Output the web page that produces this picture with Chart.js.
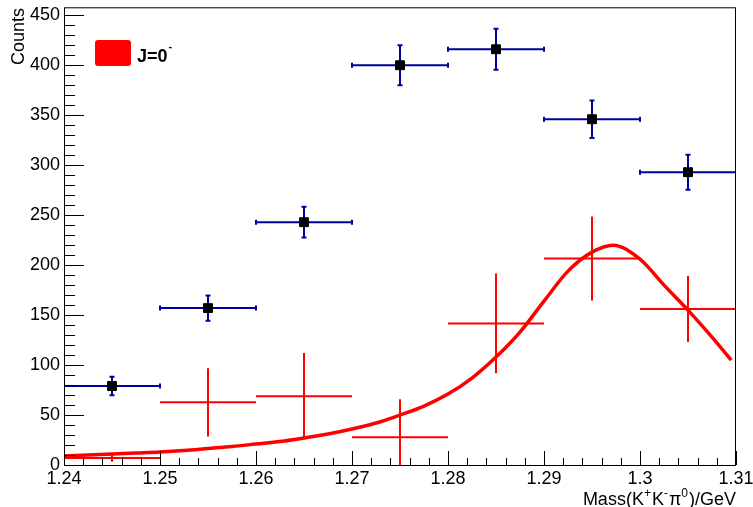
<!DOCTYPE html>
<html>
<head>
<meta charset="utf-8">
<script src="https://cdn.jsdelivr.net/npm/chart.js@4/dist/chart.umd.min.js"></script>
<style>
  html, body { margin: 0; padding: 0; background: #fff; }
  #wrap { width: 753px; height: 507px; }
</style>
</head>
<body>
<div id="wrap"><canvas id="c" width="753" height="507"></canvas></div>
<script>
// Bin centres of the K+K-pi0 mass histogram (GeV)
const massBins = [1.245, 1.255, 1.265, 1.275, 1.285, 1.295, 1.305];
const binWidth = 0.01;

// Observed counts and their errors
const dataCounts = [79, 157, 243, 400, 416, 346, 293];
const dataErrors = [9.3, 12.7, 15.3, 20, 20.5, 18.7, 17.5];

// J=0- component per bin and errors
const jp0Counts = [7, 62.7, 68.7, 27.7, 141.7, 206.7, 156];
const jp0Errors = [3.7, 34.2, 43.3, 38, 50, 42, 33];

// J=0- line shape
const fitMass = [1.2400, 1.2425, 1.2450, 1.2475, 1.2500, 1.2525, 1.2550, 1.2575, 1.2600,
                 1.2625, 1.2650, 1.2675, 1.2700, 1.2725, 1.2750, 1.2775, 1.2800, 1.2825,
                 1.2850, 1.2875, 1.2900, 1.2925, 1.2950, 1.2972, 1.3000, 1.3025, 1.3050,
                 1.3075, 1.3095];
const fitCounts = [9, 10, 11, 12, 13, 14.5, 16.5, 18.5, 21,
                   23.5, 27, 31, 36, 42, 50, 59, 71, 87,
                   108, 133, 164, 194, 213, 220, 206, 180, 155,
                   128, 105];

// Axis ticks
const xTicks = [1.24, 1.25, 1.26, 1.27, 1.28, 1.29, 1.30, 1.31];
const yTicks = [0, 50, 100, 150, 200, 250, 300, 350, 400, 450];
const xRange = [1.24, 1.31];
const yRange = [0, 458];

const FONT = '"Liberation Sans", Arial, Helvetica, sans-serif';
const BLUE = '#00009c';
const RED = '#ff0000';

const zip = (xs, ys) => xs.map((x, i) => ({ x: x, y: ys[i] }));

// Error bars, frame, inner ticks and text drawn over the chart area
const rootStyle = {
  id: 'rootStyle',
  beforeDatasetsDraw(chart) {
    const ctx = chart.ctx, xs = chart.scales.x, ys = chart.scales.y, a = chart.chartArea;
    ctx.save();
    ctx.beginPath();
    ctx.rect(a.left, a.top, a.right - a.left, a.bottom - a.top);
    ctx.clip();
    // J=0- points: crosses without caps
    ctx.strokeStyle = RED;
    ctx.lineWidth = 2;
    massBins.forEach((m, i) => {
      const x = xs.getPixelForValue(m), y = ys.getPixelForValue(jp0Counts[i]);
      ctx.beginPath();
      ctx.moveTo(xs.getPixelForValue(m - binWidth / 2), y);
      ctx.lineTo(xs.getPixelForValue(m + binWidth / 2), y);
      ctx.moveTo(x, ys.getPixelForValue(jp0Counts[i] + jp0Errors[i]));
      ctx.lineTo(x, ys.getPixelForValue(jp0Counts[i] - jp0Errors[i]));
      ctx.stroke();
    });
    // data points: crosses with end caps
    ctx.strokeStyle = BLUE;
    ctx.lineWidth = 2;
    const cap = 2.5;
    massBins.forEach((m, i) => {
      const x = xs.getPixelForValue(m), y = ys.getPixelForValue(dataCounts[i]);
      const x1 = xs.getPixelForValue(m - binWidth / 2), x2 = xs.getPixelForValue(m + binWidth / 2);
      const y1 = ys.getPixelForValue(dataCounts[i] + dataErrors[i]), y2 = ys.getPixelForValue(dataCounts[i] - dataErrors[i]);
      ctx.beginPath();
      ctx.moveTo(x1, y); ctx.lineTo(x2, y);
      ctx.moveTo(x1, y - cap); ctx.lineTo(x1, y + cap);
      ctx.moveTo(x2, y - cap); ctx.lineTo(x2, y + cap);
      ctx.moveTo(x, y1); ctx.lineTo(x, y2);
      ctx.moveTo(x - cap, y1); ctx.lineTo(x + cap, y1);
      ctx.moveTo(x - cap, y2); ctx.lineTo(x + cap, y2);
      ctx.stroke();
    });
    ctx.restore();
  },
  afterDraw(chart) {
    const ctx = chart.ctx, xs = chart.scales.x, ys = chart.scales.y, a = chart.chartArea;
    ctx.save();
    // frame
    ctx.strokeStyle = '#000';
    ctx.lineWidth = 1;
    ctx.strokeRect(a.left + 0.5, a.top + 0.5, a.right - a.left - 1, a.bottom - a.top);
    // x ticks pointing into the frame
    ctx.beginPath();
    for (let i = 0; i < xTicks.length; i++) {
      const xv = xTicks[i];
      const px = Math.round(xs.getPixelForValue(xv)) + 0.5;
      ctx.moveTo(px, a.bottom); ctx.lineTo(px, a.bottom - 14);
      if (i < xTicks.length - 1) {
        for (let k = 1; k < 5; k++) {
          const mx = Math.round(xs.getPixelForValue(xv + k * 0.002)) + 0.5;
          ctx.moveTo(mx, a.bottom); ctx.lineTo(mx, a.bottom - 7);
        }
      }
    }
    // y ticks pointing into the frame
    for (let i = 0; i < yTicks.length; i++) {
      const yv = yTicks[i];
      const py = Math.round(ys.getPixelForValue(yv)) + 0.5;
      ctx.moveTo(a.left, py); ctx.lineTo(a.left + 20, py);
      for (let k = 1; k < 5; k++) {
        const v = yv + k * 10;
        if (v > yRange[1]) break;
        const my = Math.round(ys.getPixelForValue(v)) + 0.5;
        ctx.moveTo(a.left, my); ctx.lineTo(a.left + 11, my);
      }
    }
    ctx.stroke();

    ctx.fillStyle = '#000';
    // y axis title
    ctx.save();
    ctx.translate(24, 8);
    ctx.rotate(-Math.PI / 2);
    ctx.font = '18px ' + FONT;
    ctx.textAlign = 'right';
    ctx.textBaseline = 'alphabetic';
    ctx.fillText('Counts', 0, 0);
    ctx.restore();

    // x axis title with superscripts, right aligned to the frame
    const parts = [['Mass(K', 0], ['+', 1], ['K', 0], ['-', 1], ['\u03c0', 0], ['0', 1], [')/GeV', 0]];
    const fBase = '18px ' + FONT, fSup = '12px ' + FONT;
    let total = 0;
    parts.forEach(p => { ctx.font = p[1] ? fSup : fBase; total += ctx.measureText(p[0]).width + (p[1] ? 1 : 0); });
    let cx = a.right - total;
    const base = 505;
    ctx.textAlign = 'left';
    ctx.textBaseline = 'alphabetic';
    parts.forEach(p => {
      ctx.font = p[1] ? fSup : fBase;
      ctx.fillText(p[0], cx, p[1] ? base - 8 : base);
      cx += ctx.measureText(p[0]).width + (p[1] ? 1 : 0);
    });

    // legend
    ctx.fillStyle = RED;
    ctx.beginPath();
    ctx.roundRect(95, 40, 36, 26, 3);
    ctx.fill();
    ctx.fillStyle = '#000';
    ctx.font = 'bold 18px ' + FONT;
    ctx.fillText('J=0', 137, 62);
    const w = ctx.measureText('J=0').width;
    ctx.font = 'bold 11px ' + FONT;
    ctx.fillText('-', 137 + w + 1, 50);
    ctx.restore();
  }
};

new Chart(document.getElementById('c'), {
  type: 'scatter',
  data: {
    datasets: [
      {
        type: 'line',
        label: 'J=0-',
        data: zip(fitMass, fitCounts),
        borderColor: RED,
        borderWidth: 3.5,
        pointRadius: 0,
        fill: false,
        cubicInterpolationMode: 'monotone',
        order: 2
      },
      {
        label: 'J=0- bins',
        data: zip(massBins, jp0Counts),
        pointRadius: 0,
        order: 3
      },
      {
        label: 'Data',
        data: zip(massBins, dataCounts),
        pointStyle: 'rect',
        pointRadius: 6.3,
        backgroundColor: '#000',
        borderColor: '#000',
        borderWidth: 1,
        order: 1
      }
    ]
  },
  options: {
    responsive: false,
    animation: false,
    events: [],
    layout: { padding: { top: 7, right: 17, left: 0, bottom: 0 } },
    plugins: { legend: { display: false }, tooltip: { enabled: false } },
    scales: {
      x: {
        type: 'linear',
        min: xRange[0], max: xRange[1],
        grid: { display: false, drawTicks: false },
        border: { display: false },
        afterBuildTicks(s) { s.ticks = xTicks.map(v => ({ value: v })); },
        afterFit(s) { s.height = 42; s.paddingLeft = 0; s.paddingRight = 0; },
        ticks: {
          autoSkip: false, maxRotation: 0, padding: 3,
          color: '#000',
          font: { family: FONT, size: 18 },
          callback: v => String(Number(v.toFixed(2)))
        }
      },
      y: {
        type: 'linear',
        min: yRange[0], max: yRange[1],
        grid: { display: false, drawTicks: false },
        border: { display: false },
        afterBuildTicks(s) { s.ticks = yTicks.map(v => ({ value: v })); },
        afterFit(s) { s.width = 64; s.paddingTop = 0; s.paddingBottom = 0; },
        ticks: {
          padding: 4,
          color: '#000',
          font: { family: FONT, size: 18 },
          callback: v => String(v)
        }
      }
    }
  },
  plugins: [rootStyle]
});
</script>
</body>
</html>
